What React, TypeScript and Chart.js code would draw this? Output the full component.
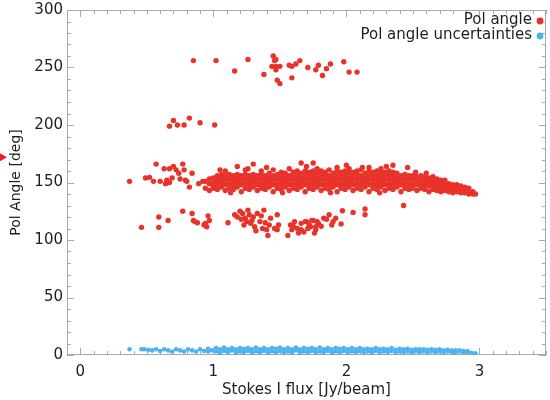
import React, { useEffect, useRef } from 'react';
import { Chart, registerables } from 'chart.js';

Chart.register(...registerables);

// ---------------- data ----------------
const X_MAJOR_TICKS = [0, 1, 2, 3];
const Y_MAJOR_TICKS = [0, 50, 100, 150, 200, 250, 300];
const X_RANGE = [-0.1, 3.5];
const Y_RANGE = [0, 300];

const SERIES_NAMES = ['Pol angle', 'Pol angle uncertainties'];

// main band ~150 deg: [x, [y values]]
const polBandColumns: [number, number[]][] = [
  [0.94, [145, 151]], [0.97, [143, 149, 153]], [1.0, [145, 150, 154, 147]],
  [1.03, [144, 148, 152, 156]], [1.06, [146, 150, 154, 157]], [1.09, [143, 148, 152, 156, 160]],
  [1.12, [145, 149, 153, 157]], [1.15, [144, 148, 152, 156]], [1.18, [146, 150, 154, 157, 164]],
  [1.21, [142, 148, 152, 156]], [1.24, [145, 149, 153, 157, 161]], [1.27, [144, 148, 152, 156]],
  [1.3, [146, 150, 154, 157, 166]], [1.33, [143, 148, 152, 156]], [1.36, [145, 149, 153, 157, 160]],
  [1.39, [144, 148, 152, 156]], [1.42, [146, 150, 154, 158]], [1.45, [142, 148, 152, 156, 161]],
  [1.48, [145, 149, 153, 157]], [1.51, [144, 148, 152, 156, 159]], [1.54, [146, 150, 154, 158]],
  [1.57, [143, 148, 152, 156, 162]], [1.6, [145, 149, 153, 157, 159]], [1.63, [144, 148, 152, 156, 160]],
  [1.66, [146, 150, 154, 158, 167]], [1.69, [142, 148, 152, 156, 160]], [1.72, [145, 149, 153, 157, 159]],
  [1.75, [144, 148, 152, 156, 160, 167]], [1.78, [146, 150, 154, 158, 162]], [1.81, [143, 148, 152, 156, 160]],
  [1.84, [145, 149, 153, 157, 159]], [1.87, [144, 148, 152, 156, 161]], [1.9, [146, 150, 154, 158]],
  [1.93, [142, 148, 152, 156, 160, 163]], [1.96, [145, 149, 153, 157, 159]], [1.99, [144, 148, 152, 156, 160]],
  [2.02, [146, 150, 154, 158, 162]], [2.05, [143, 148, 152, 156, 159]], [2.08, [145, 149, 153, 157, 160]],
  [2.11, [144, 148, 152, 156, 161]], [2.14, [146, 150, 154, 158]], [2.17, [142, 148, 152, 156, 160, 163]],
  [2.2, [145, 149, 153, 157, 159]], [2.23, [144, 148, 152, 156, 160]], [2.26, [146, 150, 154, 158, 162]],
  [2.29, [143, 148, 152, 156, 159]], [2.32, [145, 149, 153, 157, 160]], [2.35, [144, 148, 152, 156, 159, 165]],
  [2.38, [146, 150, 154, 158]], [2.41, [142, 148, 152, 156]], [2.44, [145, 149, 153, 157]],
  [2.46, [163]], [2.47, [144, 148, 152, 156]], [2.5, [145, 149, 153, 156]],
  [2.53, [143, 148, 152, 155]], [2.56, [145, 149, 153, 156]], [2.59, [144, 148, 151, 155]],
  [2.62, [142, 147, 150, 154]], [2.65, [144, 148, 151, 155]], [2.68, [143, 147, 150, 153]],
  [2.71, [142, 146, 149, 152]], [2.74, [143, 146, 150, 152]], [2.77, [142, 145, 149]],
  [2.8, [141, 145, 148]], [2.83, [142, 145, 148]], [2.86, [141, 144, 147]],
  [2.89, [141, 144, 146]], [2.92, [140, 143, 145]], [2.95, [140, 142]], [2.97, [140]],
];

// scattered points on the edges of the main band
const polBandEdges: [number, number][] = [
  [1.05, 161], [1.13, 141], [1.4, 163], [1.52, 141], [1.7, 164], [1.88, 141], [2.0, 165],
  [2.12, 163], [2.25, 141], [2.52, 159], [2.6, 158], [1.26, 162], [2.3, 164],
];

// sparse low-flux part of the ~150 deg group
const polBandLeft: [number, number][] = [
  [0.37, 151], [0.49, 154], [0.52, 154.5], [0.55, 151], [0.6, 151], [0.64, 149], [0.65, 152],
  [0.67, 150], [0.69, 154], [0.57, 166], [0.63, 162], [0.67, 162], [0.7, 164], [0.72, 161],
  [0.74, 158], [0.77, 166], [0.78, 161], [0.75, 153], [0.79, 152], [0.8, 151], [0.82, 146],
  [0.84, 158], [0.89, 149], [0.92, 151],
];

// ~250 deg group
const polUpper: [number, number][] = [
  [0.85, 256], [1.02, 256], [1.16, 247], [1.26, 257], [1.38, 244], [1.45, 260], [1.46, 256],
  [1.47, 257], [1.44, 251], [1.47, 251], [1.5, 251], [1.47, 248], [1.48, 239], [1.5, 236],
  [1.57, 252], [1.59, 251], [1.62, 253], [1.65, 256], [1.59, 241], [1.71, 250], [1.77, 248],
  [1.79, 252], [1.82, 243], [1.85, 249], [1.88, 253], [1.98, 255], [2.02, 246], [2.08, 246],
];

// ~200 deg group
const polMid: [number, number][] = [
  [0.7, 204], [0.67, 199], [0.73, 200], [0.78, 200], [0.82, 206], [0.9, 202], [1.01, 200],
];

// ~115 deg group
const polLower: [number, number][] = [
  [0.46, 111], [0.59, 120], [0.59, 111], [0.66, 117], [0.77, 125], [0.84, 123], [0.85, 117],
  [0.86, 116], [0.88, 115], [0.93, 113], [0.94, 114.5], [0.96, 121], [0.97, 117], [0.95, 111.5],
  [1.11, 115], [1.16, 122], [1.18, 120], [1.2, 125], [1.22, 123], [1.24, 119], [1.25, 116],
  [1.26, 126], [1.27, 122], [1.28, 114.5], [1.3, 120], [1.31, 111.5], [1.33, 123], [1.35, 116],
  [1.37, 110], [1.38, 126], [1.4, 109], [1.41, 104], [1.42, 113], [1.46, 110], [1.48, 109],
  [1.49, 113], [1.48, 122], [1.56, 104], [1.58, 113], [1.59, 109], [1.61, 116], [1.63, 110],
  [1.66, 114.5], [1.68, 107], [1.7, 116], [1.73, 111.5], [1.75, 117], [1.77, 109], [1.66, 109],
  [1.69, 116], [1.72, 113], [1.74, 117], [1.77, 111.5], [1.79, 114.5], [1.76, 106], [1.83, 119],
  [1.87, 122], [1.89, 113], [1.9, 116], [1.96, 114], [1.97, 125.5], [2.05, 124], [2.14, 127],
  [2.14, 122], [2.43, 130],
  [1.21, 118], [1.23, 113], [1.29, 117], [1.32, 108], [1.36, 121], [1.39, 115], [1.43, 119],
  [1.6, 112], [1.64, 106], [1.71, 110], [1.78, 116], [1.81, 112], [1.85, 118], [1.92, 119],
];

// uncertainties: [x, [y values]]
const uncertaintyColumns: [number, number[]][] = [
  [0.37, [5]], [0.46, [5]], [0.48, [5]], [0.51, [4.5]],
  [0.54, [4]], [0.57, [5]], [0.6, [3.5]], [0.63, [5]], [0.66, [4]], [0.69, [3]], [0.72, [5]],
  [0.75, [4]], [0.78, [3]], [0.81, [5]], [0.84, [4]], [0.87, [3]], [0.9, [5]], [0.93, [3.5]],
  [0.96, [5.5, 3]], [0.99, [4]],
  [1.02, [3, 6]], [1.05, [2, 5]], [1.08, [3.5, 6.5]], [1.11, [2.5, 5]], [1.14, [4, 6]], [1.17, [2, 5]],
  [1.2, [3, 6]], [1.23, [2.5, 5.5]], [1.26, [3.5, 6]], [1.29, [2, 5]], [1.32, [3, 6.5]], [1.35, [2.5, 5]],
  [1.38, [3.5, 6]], [1.41, [2, 5]], [1.44, [3, 6]], [1.47, [2.5, 5.5]], [1.5, [3.5, 6.5]], [1.53, [2, 5]],
  [1.56, [3, 6]], [1.59, [2.5, 5]], [1.62, [4, 6.5]], [1.65, [2, 5]], [1.68, [3, 6]], [1.71, [2.5, 5.5]],
  [1.74, [3.5, 6]], [1.77, [2, 5]], [1.8, [3, 6.5]], [1.83, [2.5, 5]], [1.86, [3.5, 6]], [1.89, [2, 5]],
  [1.92, [3, 6]], [1.95, [2.5, 5.5]], [1.98, [3.5, 6]], [2.01, [2, 5]], [2.04, [3, 6]], [2.07, [2.5, 5]],
  [2.1, [3.5, 6]], [2.13, [2, 5]], [2.16, [3, 5.5]], [2.19, [2.5, 5]], [2.22, [3.5, 6]], [2.25, [2, 5]],
  [2.28, [3, 5.5]], [2.31, [2.5, 5]], [2.34, [3.5, 6]], [2.37, [2, 4.5]], [2.4, [3, 5.5]], [2.43, [2.5, 5]],
  [2.46, [3, 5.5]], [2.49, [2, 4.5]], [2.52, [3, 5]], [2.55, [2.5, 5]], [2.58, [3, 5]], [2.61, [2, 4.5]],
  [2.64, [3, 5]], [2.67, [2.5, 4.5]], [2.7, [3, 5]], [2.73, [2, 4]], [2.76, [3, 4.5]], [2.79, [2.5, 4]],
  [2.82, [2, 4]], [2.85, [3, 4]], [2.88, [2, 3.5]], [2.91, [2.5, 3.5]], [2.94, [2]], [2.97, [1.5]],
];

// marker on left edge (deg)
const EDGE_MARKER_ANGLE = 172;

// ---------------- styles ----------------
const RED = '#e8322a';
const BLUE = '#4db3f0';
const TEXT = '#1e1e1e';
const FRAME = '#a9a9a9';
const FONT_FAMILY = '"DejaVu Sans", sans-serif';

const fromColumns = (cols: [number, number[]][]) =>
  cols.flatMap(([x, ys]) => ys.map((y) => ({ x, y })));
const fromPairs = (pairs: [number, number][]) => pairs.map(([x, y]) => ({ x, y }));

const framePlugin = {
  id: 'idlFrame',
  beforeDatasetsDraw(chart: any) {
    const { ctx, chartArea, scales } = chart;
    const { left, right, top, bottom } = chartArea;
    const xs = scales.x;
    const ys = scales.y;
    ctx.save();
    ctx.strokeStyle = FRAME;
    ctx.lineWidth = 1;
    ctx.strokeRect(left + 0.5, top + 0.5, right - left - 1, bottom - top - 1);
    ctx.beginPath();
    for (let i = Math.round(X_RANGE[0] * 10); i <= Math.round(X_RANGE[1] * 10); i++) {
      const v = i / 10;
      const px = Math.round(xs.getPixelForValue(v)) + 0.5;
      const len = X_MAJOR_TICKS.includes(v) ? 7 : 4;
      ctx.moveTo(px, bottom);
      ctx.lineTo(px, bottom - len);
      ctx.moveTo(px, top);
      ctx.lineTo(px, top + len);
    }
    for (let v = Y_RANGE[0]; v <= Y_RANGE[1]; v += 10) {
      const py = Math.round(ys.getPixelForValue(v)) + 0.5;
      const len = Y_MAJOR_TICKS.includes(v) ? 7 : 4;
      ctx.moveTo(left, py);
      ctx.lineTo(left + len, py);
      ctx.moveTo(right, py);
      ctx.lineTo(right - len, py);
    }
    ctx.stroke();
    ctx.restore();
  },
  afterDraw(chart: any) {
    const { ctx, chartArea, scales } = chart;
    const { right, top } = chartArea;
    ctx.save();
    ctx.font = `15px ${FONT_FAMILY}`;
    ctx.fillStyle = TEXT;
    ctx.textAlign = 'right';
    ctx.textBaseline = 'middle';
    const colors = [RED, BLUE];
    SERIES_NAMES.forEach((name, i) => {
      const cy = top + 10 + i * 15;
      ctx.fillStyle = TEXT;
      ctx.fillText(name, right - 14, cy);
      ctx.beginPath();
      ctx.fillStyle = colors[i];
      ctx.arc(right - 6, cy + 1, 3.4, 0, Math.PI * 2);
      ctx.fill();
    });
    // small red arrow head on the left edge
    const ty = scales.y.getPixelForValue(EDGE_MARKER_ANGLE);
    ctx.fillStyle = '#ee1c1c';
    ctx.beginPath();
    ctx.moveTo(0, ty - 4);
    ctx.lineTo(7, ty);
    ctx.lineTo(0, ty + 4);
    ctx.closePath();
    ctx.fill();
    ctx.restore();
  },
};

export default function App() {
  const canvasRef = useRef<HTMLCanvasElement | null>(null);

  useEffect(() => {
    if (!canvasRef.current) return;
    const redData = [
      ...fromColumns(polBandColumns),
      ...fromPairs(polBandEdges),
      ...fromPairs(polBandLeft),
      ...fromPairs(polUpper),
      ...fromPairs(polMid),
      ...fromPairs(polLower),
    ];
    const blueData = fromColumns(uncertaintyColumns);
    const tickFont = { family: FONT_FAMILY, size: 15 };

    const chart = new Chart(canvasRef.current, {
      type: 'scatter',
      data: {
        datasets: [
          {
            label: SERIES_NAMES[0],
            data: redData,
            backgroundColor: RED,
            borderWidth: 0,
            pointRadius: 2.7,
          },
          {
            label: SERIES_NAMES[1],
            data: blueData,
            backgroundColor: BLUE,
            borderWidth: 0,
            pointRadius: 2.3,
          },
        ],
      },
      options: {
        animation: false,
        responsive: false,
        devicePixelRatio: 1,
        layout: { padding: { top: 10, right: 0, left: 0, bottom: 0 } },
        plugins: { legend: { display: false }, tooltip: { enabled: false } },
        scales: {
          x: {
            type: 'linear',
            min: X_RANGE[0],
            max: X_RANGE[1],
            afterBuildTicks: (s: any) => {
              s.ticks = X_MAJOR_TICKS.map((value) => ({ value }));
            },
            afterFit: (s: any) => {
              s.height = 45;
              s.paddingLeft = 0;
              s.paddingRight = 0;
            },
            grid: { display: false, drawTicks: false },
            border: { display: false },
            ticks: { font: tickFont, color: TEXT, padding: 8, maxRotation: 0, autoSkip: false },
            title: {
              display: true,
              text: 'Stokes I flux [Jy/beam]',
              font: { family: FONT_FAMILY, size: 15 },
              color: TEXT,
              padding: { top: 0, bottom: 1 },
            },
          },
          y: {
            type: 'linear',
            min: Y_RANGE[0],
            max: Y_RANGE[1],
            afterBuildTicks: (s: any) => {
              s.ticks = Y_MAJOR_TICKS.map((value) => ({ value }));
            },
            afterFit: (s: any) => {
              s.width = 67;
              s.paddingTop = 0;
              s.paddingBottom = 0;
            },
            grid: { display: false, drawTicks: false },
            border: { display: false },
            ticks: { font: tickFont, color: TEXT, padding: 4, autoSkip: false },
            title: {
              display: true,
              text: 'Pol Angle [deg]',
              font: { family: FONT_FAMILY, size: 14 },
              color: TEXT,
              padding: { top: 8, bottom: 0 },
            },
          },
        },
      },
      plugins: [framePlugin],
    } as any);
    return () => chart.destroy();
  }, []);

  return (
    <div style={{ position: 'fixed', left: 0, top: 0, width: 550, height: 400, background: '#fff' }}>
      <canvas ref={canvasRef} width={550} height={400} />
    </div>
  );
}
